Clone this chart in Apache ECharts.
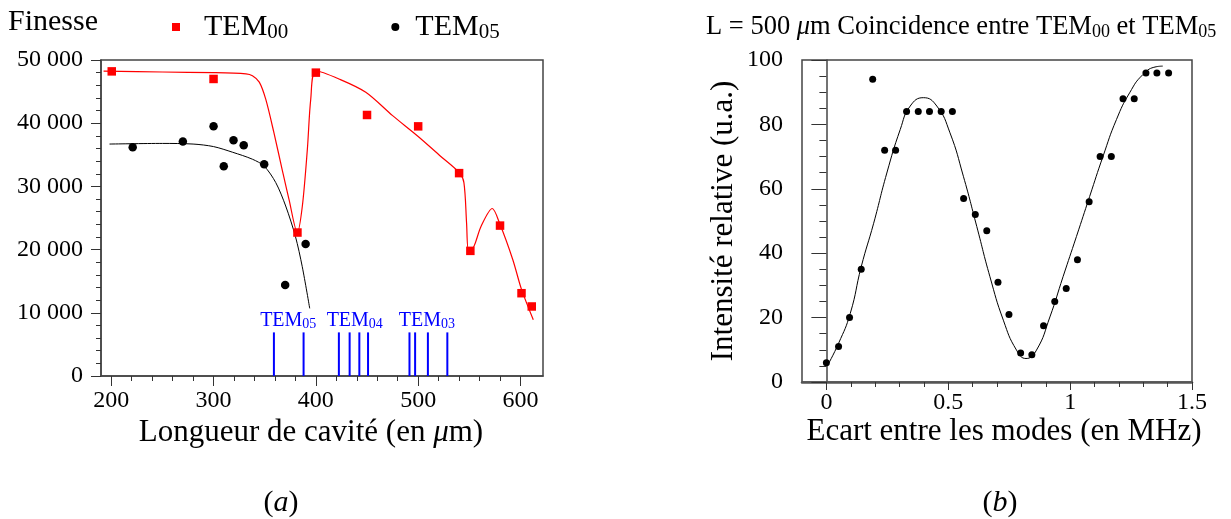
<!DOCTYPE html>
<html><head><meta charset="utf-8">
<script src="https://cdn.jsdelivr.net/npm/echarts@6/dist/echarts.min.js"></script>
<style>html,body{margin:0;padding:0;background:#fff}#c{width:1231px;height:519px}</style>
</head><body><div id="c"></div>
<script>
// ---------- Panel (a) data ----------
const tem00X = [200.5, 300, 382, 400, 450, 500, 540, 551, 580, 601, 611];
const tem00Y = [48200, 47000, 22700, 48000, 41300, 39500, 32100, 19800, 23800, 13100, 11000];
const tem05X = [221, 270, 300, 310, 319.5, 329.5, 349.5, 370, 390];
const tem05Y = [36200, 37100, 39500, 33200, 37300, 36500, 33500, 14400, 20900];
const fit00X = [192.5, 250, 300, 331.7, 338, 344.7, 351, 359, 367, 373.8, 381.9, 386.8, 391.7, 395, 400, 422.6, 448.8, 475, 500, 521, 540, 544.7, 547.3, 549, 552, 561.5, 572.4, 579.5, 592.5, 601, 612.5];
const fit00Y = [48250, 48100, 48000, 47800, 47500, 46500, 43800, 38500, 32700, 27900, 22700, 26900, 35900, 43800, 48300, 47000, 44900, 41200, 37900, 34900, 32200, 30600, 24200, 20000, 20000, 23700, 26500, 24200, 18400, 13700, 8900];
const fit05X = [198.3, 250, 280, 300, 318.7, 338, 349.5, 360.8, 370.5, 380, 386.7, 394];
const fit05Y = [36700, 36800, 36700, 36300, 35400, 34300, 33200, 30600, 26900, 22100, 17300, 10700];
const modeX = [359, 388, 422.5, 433, 442.5, 451, 491.5, 497, 509.5, 528.5];
const modeTop = 6900;
const modeLabelX = [373, 438, 508.5];
const modeLabelY = [8700, 8700, 8700];
const modeLabelSub = ['05', '04', '03'];
const xTicksA = [200, 300, 400, 500, 600];
const xMinorA = [220, 240, 260, 280, 320, 340, 360, 380, 420, 440, 460, 480, 520, 540, 560, 580];

// ---------- Panel (b) data ----------
const ecartX = [0, 0.05, 0.095, 0.143, 0.19, 0.239, 0.284, 0.329, 0.377, 0.423, 0.471, 0.517, 0.563, 0.611, 0.658, 0.704, 0.749, 0.797, 0.843, 0.891, 0.937, 0.984, 1.03, 1.078, 1.123, 1.169, 1.217, 1.263, 1.311, 1.356, 1.404];
const intensY = [6, 11, 20, 35, 94, 72, 72, 84, 84, 84, 84, 84, 57, 52, 47, 31, 21, 9, 8.5, 17.5, 25, 29, 38, 56, 70, 70, 88, 88, 96, 96, 96];
const fitBX = [0.005, 0.05, 0.098, 0.143, 0.194, 0.248, 0.303, 0.344, 0.398, 0.453, 0.507, 0.562, 0.617, 0.671, 0.726, 0.78, 0.819, 0.862, 0.917, 0.971, 1.026, 1.08, 1.135, 1.19, 1.244, 1.299, 1.353, 1.38];
const fitBY = [5.2, 12, 21.3, 35.8, 49.3, 64.9, 78.4, 85.7, 88.3, 85.7, 77.4, 63.9, 48.3, 32.7, 19.2, 9.9, 7.3, 9.9, 20.2, 32.7, 45.2, 57.6, 70.1, 81.5, 89.8, 95.5, 97.9, 98.1];
const xTicksB = [0, 0.5, 1, 1.5];
const xMinorB = [0.1, 0.2, 0.3, 0.4, 0.6, 0.7, 0.8, 0.9, 1.1, 1.2, 1.3, 1.4];

const zip = (a, b) => a.map((x, i) => [x, b[i]]);
const F = "'Liberation Serif', 'Times New Roman', serif";
const AX = '#333';
const chart = echarts.init(document.getElementById('c'), null, {renderer: 'canvas'});

function rb(size) {
  return {
    n: {fontFamily: F, fontSize: size, color: '#000', fontWeight: 'normal'},
    i: {fontFamily: F, fontSize: size, color: '#000', fontStyle: 'italic', fontWeight: 'normal'}
  };
}
function fmtThousands(v) {
  if (v === 0) return '0';
  const s = String(v);
  return s.slice(0, s.length - 3) + ' ' + s.slice(-3);
}
function gtext(x, y, text, size, align, va) {
  return {type: 'text', x: x, y: y, silent: true,
    style: {text: text, rich: rb(size), fontFamily: F, fontSize: size, fill: '#000', align: align, verticalAlign: va}};
}

const option = {
  animation: false,
  backgroundColor: '#fff',
  textStyle: {fontFamily: F, fontWeight: 'normal'},
  title: {
    left: 701, top: 9,
    text: '{n|L = 500 }{i|\u03bc}{n|m Coincidence entre TEM}{s|00}{n| et TEM}{s|05}',
    textStyle: {
      fontFamily: F, fontWeight: 'normal', fontSize: 26.5,
      rich: {
        n: {fontFamily: F, fontSize: 26.5, color: '#000', fontWeight: 'normal'},
        i: {fontFamily: F, fontSize: 26.5, color: '#000', fontStyle: 'italic', fontWeight: 'normal'},
        s: {fontFamily: F, fontSize: 18, color: '#000', fontWeight: 'normal', padding: [9, 0, 0, 0]}
      }
    }
  },
  legend: {
    left: 167, top: 7,
    itemWidth: 8, itemHeight: 8, itemGap: 103,
    data: ['TEM00', 'TEM05'],
    formatter: n => n === 'TEM00' ? '{a|TEM}{b|00}' : '{c|TEM}{b|05}',
    textStyle: {
      fontFamily: F, fontSize: 30, color: '#000',
      rich: {
        a: {fontFamily: F, fontSize: 30, color: '#000', padding: [0, 0, 0, 19]},
        c: {fontFamily: F, fontSize: 30, color: '#000', padding: [0, 0, 0, 11]},
        b: {fontFamily: F, fontSize: 21, color: '#000', padding: [10, 0, 0, 0]}
      }
    }
  },
  graphic: [
    gtext(8, 7, '{n|Finesse}', 30, 'left', 'top'),
    gtext(311, 417, '{n|Longueur de cavit\u00e9 (en }{i|\u03bc}{n|m)}', 31, 'center', 'top'),
    gtext(1004, 416, '{n|Ecart entre les modes (en MHz)}', 31, 'center', 'top'),
    gtext(281, 503, '{n|(}{i|a}{n|)}', 30, 'center', 'middle'),
    gtext(1000, 503, '{n|(}{i|b}{n|)}', 30, 'center', 'middle')
  ],
  grid: [
    {left: 101, top: 60, width: 442, height: 316, show: true, borderColor: '#444', borderWidth: 1.5, backgroundColor: 'transparent'},
    {left: 802, top: 60, width: 390, height: 322, show: true, borderColor: '#444', borderWidth: 1.5, backgroundColor: 'transparent'}
  ],
  xAxis: [
    {
      gridIndex: 0, type: 'value', min: 190, max: 622, position: 'bottom',
      axisLine: {show: true, lineStyle: {color: '#444', width: 1.5}},
      axisTick: {show: true, customValues: xTicksA, length: 10, lineStyle: {color: AX}},
      axisLabel: {customValues: xTicksA, fontFamily: F, fontSize: 24, color: '#000', margin: 13},
      splitLine: {show: false}
    },
    {
      gridIndex: 0, type: 'value', min: 190, max: 622, position: 'bottom',
      axisLine: {show: false},
      axisTick: {show: true, customValues: xMinorA, length: 5, lineStyle: {color: AX}},
      axisLabel: {show: false}, splitLine: {show: false}
    },
    {
      gridIndex: 1, type: 'value', min: -0.1, max: 1.5, position: 'bottom',
      axisLine: {show: true, lineStyle: {color: '#555', width: 2.5}},
      axisTick: {show: true, customValues: xTicksB, length: 8, lineStyle: {color: AX}},
      axisLabel: {customValues: xTicksB, fontFamily: F, fontSize: 24, color: '#000', margin: 9},
      splitLine: {show: false}
    },
    {
      gridIndex: 1, type: 'value', min: -0.1, max: 1.5, position: 'bottom',
      axisLine: {show: false},
      axisTick: {show: true, customValues: xMinorB, length: 5, lineStyle: {color: AX}},
      axisLabel: {show: false}, splitLine: {show: false}
    }
  ],
  yAxis: [
    {
      gridIndex: 0, type: 'value', min: 0, max: 50000, interval: 10000,
      axisLine: {show: true, lineStyle: {color: '#444', width: 1.5}},
      axisTick: {show: true, length: 10, lineStyle: {color: AX}},
      minorTick: {show: true, splitNumber: 5, length: 5, lineStyle: {color: AX}},
      axisLabel: {formatter: fmtThousands, fontFamily: F, fontSize: 24, color: '#000', margin: 18},
      splitLine: {show: false}, minorSplitLine: {show: false}
    },
    {
      gridIndex: 1, type: 'value', min: 0, max: 100, interval: 20,
      axisLine: {show: true, lineStyle: {color: '#444', width: 1.5}},
      axisTick: {show: true, length: 15, lineStyle: {color: AX}},
      minorTick: {show: true, splitNumber: 4, length: 7, lineStyle: {color: AX}},
      axisLabel: {fontFamily: F, fontSize: 24, color: '#000', margin: 19},
      splitLine: {show: false}, minorSplitLine: {show: false},
      name: '{n|Intensit\u00e9 relative (u.a.)}',
      nameLocation: 'middle', nameRotate: 90, nameGap: 63,
      nameTextStyle: {fontFamily: F, fontSize: 31, rich: rb(31)}
    }
  ],
  series: [
    {
      name: 'TEM00', type: 'scatter', xAxisIndex: 0, yAxisIndex: 0,
      symbol: 'rect', symbolSize: 8.5, itemStyle: {color: '#ff0000', opacity: 1}, z: 5,
      data: zip(tem00X, tem00Y)
    },
    {
      name: 'TEM05', type: 'scatter', xAxisIndex: 0, yAxisIndex: 0,
      symbol: 'circle', symbolSize: 8.5, itemStyle: {color: '#000', opacity: 1}, z: 5,
      data: zip(tem05X, tem05Y)
    },
    {
      name: 'fit00', type: 'line', xAxisIndex: 0, yAxisIndex: 0, smooth: 0.3,
      showSymbol: false, lineStyle: {color: '#ff0000', width: 1.2}, z: 3,
      data: zip(fit00X, fit00Y)
    },
    {
      name: 'fit05', type: 'line', xAxisIndex: 0, yAxisIndex: 0, smooth: 0.3,
      showSymbol: false, lineStyle: {color: '#000', width: 1}, z: 3,
      data: zip(fit05X, fit05Y)
    },
    {
      name: 'modes', type: 'custom', xAxisIndex: 0, yAxisIndex: 0, silent: true,
      data: modeX.map(x => [x, modeTop]),
      renderItem: (params, api) => {
        const p0 = api.coord([api.value(0), 0]);
        const p1 = api.coord([api.value(0), api.value(1)]);
        return {type: 'line', shape: {x1: p0[0], y1: p0[1], x2: p1[0], y2: p1[1]},
                style: {stroke: '#0000ff', lineWidth: 2}};
      }
    },
    {
      name: 'modeLabels', type: 'custom', xAxisIndex: 0, yAxisIndex: 0, silent: true,
      data: modeLabelX.map((x, i) => [x, modeLabelY[i], i]),
      renderItem: (params, api) => {
        const p = api.coord([api.value(0), api.value(1)]);
        const sub = modeLabelSub[api.value(2)];
        return {type: 'text', x: p[0], y: p[1], style: {
          text: '{t|TEM}{s|' + sub + '}', align: 'center', verticalAlign: 'middle',
          rich: {
            t: {fontFamily: F, fontSize: 20, fill: '#0000ff', color: '#0000ff'},
            s: {fontFamily: F, fontSize: 14, fill: '#0000ff', color: '#0000ff', padding: [7, 0, 0, 0]}
          }
        }};
      }
    },
    {
      name: 'points', type: 'scatter', xAxisIndex: 2, yAxisIndex: 1,
      symbol: 'circle', symbolSize: 7, itemStyle: {color: '#000', opacity: 1}, z: 5,
      data: zip(ecartX, intensY)
    },
    {
      name: 'fitB', type: 'line', xAxisIndex: 2, yAxisIndex: 1, smooth: true,
      showSymbol: false, lineStyle: {color: '#000', width: 1}, z: 3,
      data: zip(fitBX, fitBY)
    }
  ]
};
chart.setOption(option);
</script>
</body></html>
